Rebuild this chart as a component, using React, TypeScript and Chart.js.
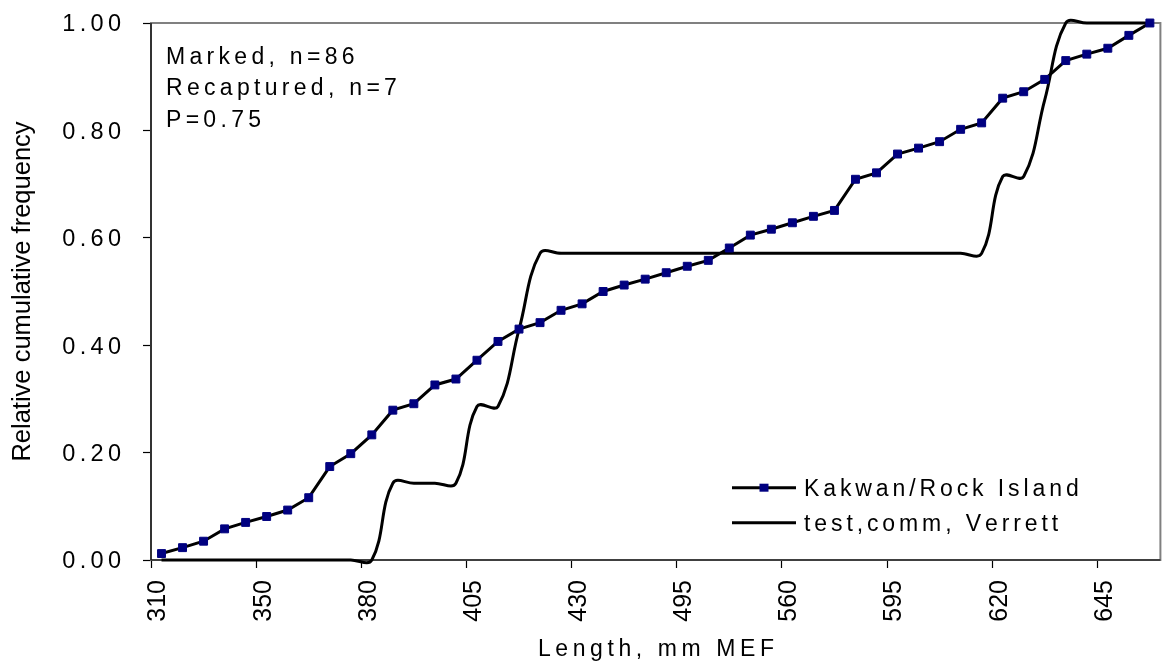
import { useEffect, useRef } from 'react';
import { Chart, registerables } from 'chart.js';

Chart.register(...registerables);

// Tick labels shown every 5th category (length, mm MEF)
const tickLabels = ['310', '350', '380', '405', '430', '495', '560', '595', '620', '645'];

// Kakwan/Rock Island relative cumulative frequency (n=86)
const kakwan = [
  0.012, 0.023, 0.035, 0.058, 0.070, 0.081, 0.093, 0.116, 0.174, 0.198,
  0.233, 0.279, 0.291, 0.326, 0.337, 0.372, 0.407, 0.430, 0.442, 0.465,
  0.477, 0.500, 0.512, 0.523, 0.535, 0.547, 0.558, 0.581, 0.605, 0.616,
  0.628, 0.640, 0.651, 0.709, 0.721, 0.756, 0.767, 0.779, 0.802, 0.814,
  0.860, 0.872, 0.895, 0.930, 0.942, 0.953, 0.977, 1.000,
];

// test,comm, Verrett relative cumulative frequency (n=7)
const verrett = [
  0, 0, 0, 0, 0, 0, 0, 0, 0, 0,
  0, 0.143, 0.143, 0.143, 0.143, 0.286, 0.286, 0.429, 0.571, 0.571,
  0.571, 0.571, 0.571, 0.571, 0.571, 0.571, 0.571, 0.571, 0.571, 0.571,
  0.571, 0.571, 0.571, 0.571, 0.571, 0.571, 0.571, 0.571, 0.571, 0.571,
  0.714, 0.714, 0.857, 1.000, 1.000, 1.000, 1.000, 1.000,
];

const seriesNames = ['Kakwan/Rock Island', 'test,comm, Verrett'];
const annotationLines = ['Marked, n=86', 'Recaptured, n=7', 'P=0.75'];
const xTitle = 'Length, mm MEF';
const yTitle = 'Relative cumulative frequency';

const categories = kakwan.map((_, i) => (i % 5 === 0 ? tickLabels[i / 5] : ''));

const FONT = '"Liberation Sans", Arial, sans-serif';

function drawSpaced(
  ctx: CanvasRenderingContext2D,
  text: string,
  x: number,
  y: number,
  ls: number,
  align: 'left' | 'right' | 'center'
) {
  const chars = Array.from(text);
  const widths = chars.map((c) => ctx.measureText(c).width);
  const total = widths.reduce((a, b) => a + b, 0) + ls * (chars.length - 1);
  let cx = align === 'left' ? x : align === 'right' ? x - total : x - total / 2;
  ctx.textAlign = 'left';
  chars.forEach((c, i) => {
    ctx.fillText(c, cx, y);
    cx += widths[i] + ls;
  });
}

const framePlugin = {
  id: 'frame',
  beforeDatasetsDraw(chart: any) {
    const { ctx, chartArea } = chart;
    ctx.save();
    ctx.strokeStyle = '#808080';
    ctx.lineWidth = 2;
    ctx.strokeRect(chartArea.left, chartArea.top, chartArea.right - chartArea.left, chartArea.bottom - chartArea.top);
    ctx.strokeStyle = '#000';
    ctx.lineWidth = 1.2;
    ctx.beginPath();
    ctx.moveTo(chartArea.left, chartArea.top);
    ctx.lineTo(chartArea.left, chartArea.bottom);
    ctx.lineTo(chartArea.right, chartArea.bottom);
    ctx.stroke();
    ctx.restore();
  },
};

const textPlugin = {
  id: 'texts',
  afterDraw(chart: any) {
    const { ctx } = chart;
    const yScale = chart.scales.y;
    ctx.save();
    ctx.fillStyle = '#000';
    ctx.textBaseline = 'alphabetic';

    // y tick labels
    ctx.font = `23.5px ${FONT}`;
    yScale.ticks.forEach((t: any) => {
      const py = yScale.getPixelForValue(t.value);
      drawSpaced(ctx, Number(t.value).toFixed(2), 121, py + 8.4, 4.3, 'right');
    });

    // y title
    ctx.save();
    ctx.font = `25.5px ${FONT}`;
    ctx.translate(30, (chart.chartArea.top + chart.chartArea.bottom) / 2);
    ctx.rotate(-Math.PI / 2);
    ctx.textAlign = 'center';
    ctx.fillText(yTitle, 0, 0);
    ctx.restore();

    // x title
    ctx.font = `23px ${FONT}`;
    drawSpaced(ctx, xTitle, 656, 656, 4.6, 'center');

    // annotation text
    annotationLines.forEach((line, i) => {
      drawSpaced(ctx, line, 166, 63.5 + i * 31.6, 4.3, 'left');
    });

    // legend
    const legendY = [487.7, 522.7];
    chart.data.datasets.forEach((ds: any, i: number) => {
      const y = legendY[i];
      ctx.strokeStyle = '#000';
      ctx.lineWidth = 3;
      ctx.beginPath();
      ctx.moveTo(732, y);
      ctx.lineTo(796, y);
      ctx.stroke();
      if (i === 0) {
        ctx.fillStyle = '#000080';
        ctx.fillRect(764 - 4.5, y - 4, 9, 8);
        ctx.fillStyle = '#000';
      }
      drawSpaced(ctx, ds.label, 804, y + 8.5, 3.9, 'left');
    });
    ctx.restore();
  },
};

export default function App() {
  const canvasRef = useRef<HTMLCanvasElement | null>(null);

  useEffect(() => {
    const canvas = canvasRef.current;
    if (!canvas) return;
    const chart = new Chart(canvas, {
      type: 'line',
      data: {
        labels: categories,
        datasets: [
          {
            label: seriesNames[0],
            data: kakwan,
            borderColor: '#000',
            borderWidth: 3,
            tension: 0,
            pointStyle: 'rect',
            pointRadius: 5.6,
            pointBackgroundColor: '#000080',
            pointBorderColor: '#000080',
            pointBorderWidth: 1,
            clip: false,
            order: 1,
          } as any,
          {
            label: seriesNames[1],
            data: verrett,
            borderColor: '#000',
            borderWidth: 3,
            tension: 0.4,
            pointRadius: 0,
            capBezierPoints: false,
            clip: false,
            order: 2,
          } as any,
        ],
      },
      options: {
        responsive: false,
        animation: false,
        events: [],
        layout: { padding: { left: 0, right: 4, top: 23, bottom: 0 } },
        elements: { line: { capBezierPoints: false } as any },
        plugins: {
          legend: { display: false },
          tooltip: { enabled: false },
          title: { display: false },
        },
        scales: {
          x: {
            type: 'category',
            offset: true,
            afterFit: (scale: any) => {
              scale.height = 103;
              scale.paddingLeft = 0;
              scale.paddingRight = 0;
            },
            grid: {
              offset: true,
              drawOnChartArea: false,
              drawTicks: true,
              tickLength: 8,
              tickWidth: 1.2,
              color: (c: any) => (c.index % 5 === 0 && c.index < kakwan.length ? '#000' : 'rgba(0,0,0,0)'),
            },
            border: { display: false },
            ticks: {
              autoSkip: false,
              maxRotation: 90,
              minRotation: 90,
              padding: 12,
              labelOffset: -3,
              color: '#000',
              font: { family: FONT, size: 25 },
              callback: (_v: any, i: number) => categories[i],
            },
          },
          y: {
            min: 0,
            max: 1,
            afterFit: (scale: any) => {
              scale.width = 151;
              scale.paddingTop = 0;
              scale.paddingBottom = 0;
            },
            grid: {
              drawOnChartArea: false,
              drawTicks: true,
              tickLength: 8,
              tickWidth: 1.2,
              color: '#000',
            },
            border: { display: false },
            ticks: {
              stepSize: 0.2,
              display: false,
            },
          },
        },
      },
      plugins: [framePlugin, textPlugin],
    });
    return () => chart.destroy();
  }, []);

  return (
    <div style={{ position: 'fixed', left: 0, top: 0, width: 1167, height: 663, background: '#fff' }}>
      <canvas ref={canvasRef} width={1167} height={663} style={{ display: 'block' }} />
    </div>
  );
}
